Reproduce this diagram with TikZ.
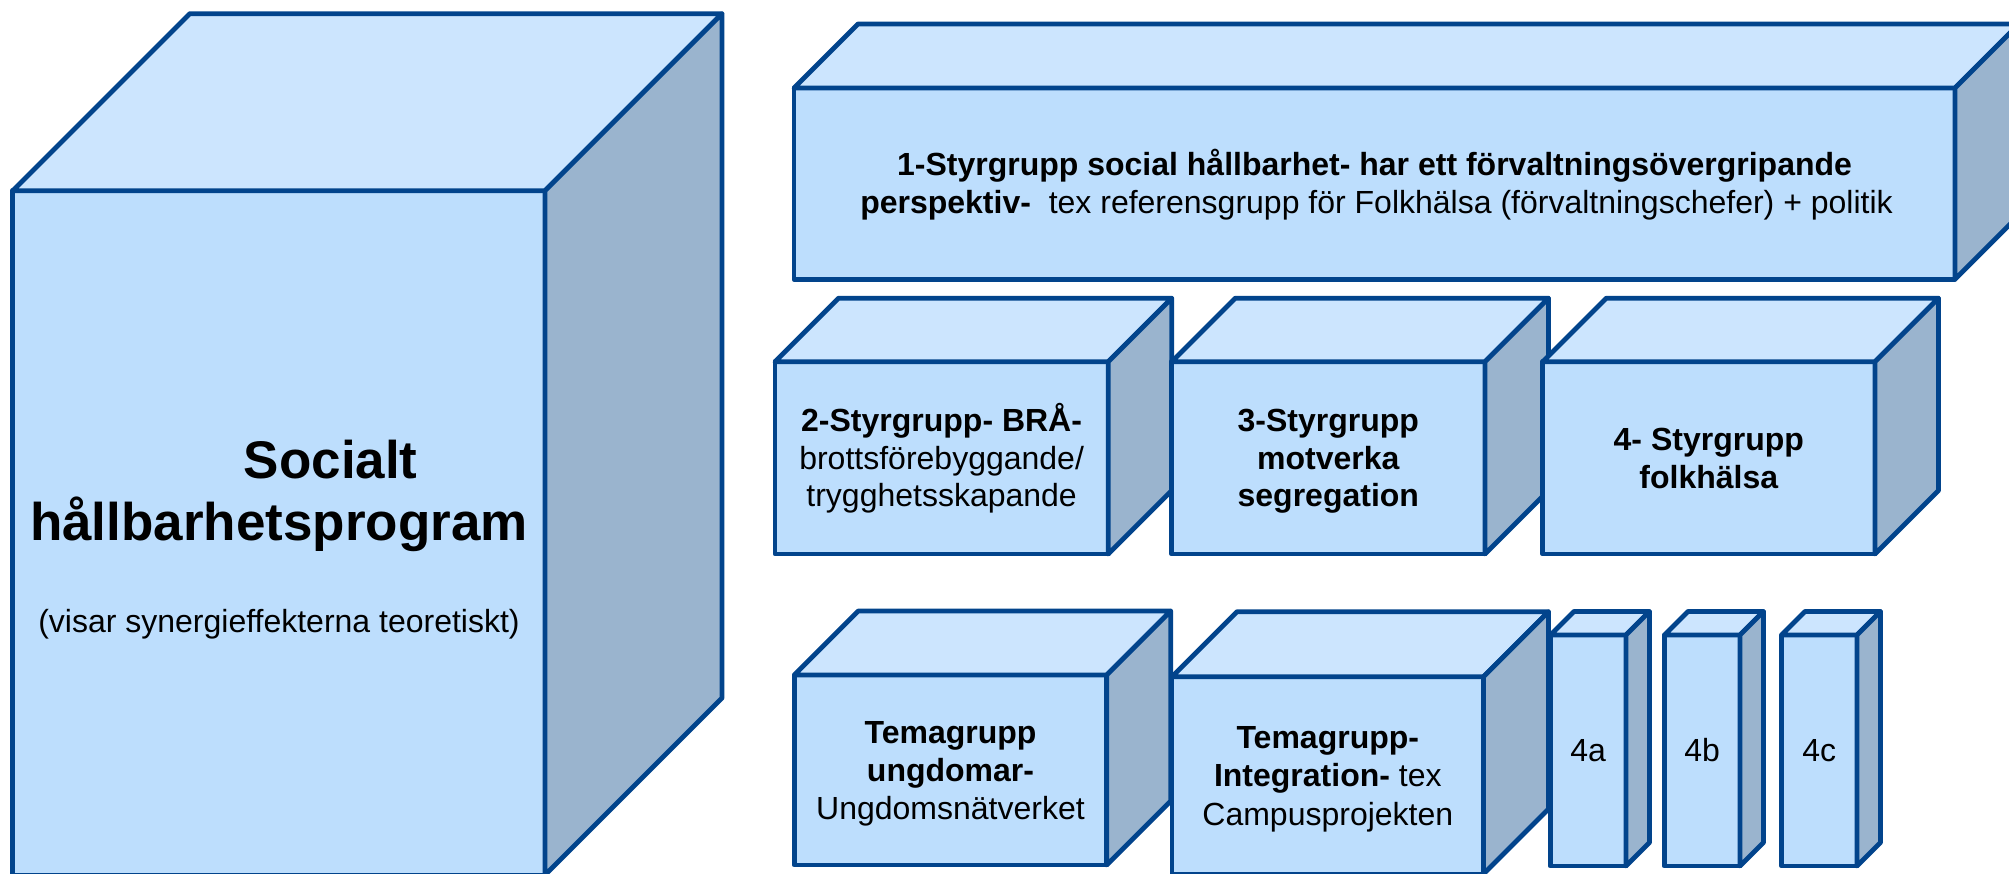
\documentclass[tikz,border=0pt]{standalone}
\usepackage{fontspec}
\setmainfont{Liberation Sans}
\definecolor{cfront}{HTML}{BDDEFD}
\definecolor{ctop}{HTML}{CCE5FE}
\definecolor{cside}{HTML}{9AB4CE}
\definecolor{cline}{HTML}{02448C}
\tikzset{
  cubeline/.style={draw=cline, line width=4.8pt, line join=round},
  txt/.style={anchor=base, inner sep=0pt, font=\fontsize{32}{38}\selectfont},
  btxt/.style={anchor=base, inner sep=0pt, font=\fontsize{32}{38}\selectfont\bfseries},
  bigtxt/.style={anchor=base, inner sep=0pt, font=\fontsize{53}{58}\selectfont\bfseries}
}
% front x1, top y1, front x2, bottom y2, depth
\newcommand\mycube[5]{%
  \filldraw[cubeline,fill=cfront] (#1,#2) rectangle (#3,#4);
  \filldraw[cubeline,fill=ctop] (#1,#2) -- ({#1+#5},{#2-#5}) -- ({#3+#5},{#2-#5}) -- (#3,#2) -- cycle;
  \filldraw[cubeline,fill=cside] (#3,#2) -- ({#3+#5},{#2-#5}) -- ({#3+#5},{#4-#5}) -- (#3,#4) -- cycle;
}
\begin{document}
\begin{tikzpicture}[x=1pt,y=-1pt]
\useasboundingbox (0,0) rectangle (2009,873);
\clip (0,0) rectangle (2009,873);
\fill[white] (0,0) rectangle (2009,873);
% big cube
\mycube{12.7}{190.7}{545}{875}{177}
\node[bigtxt] (s1) at (330.7,478) {Socialt};
\node[bigtxt] (s2) at (279,540) {hållbarhetsprogram};
\node[txt] (s3) at (279,632) {(visar synergieffekterna teoretiskt)};
% top cube
\mycube{794}{88}{1955}{279.3}{64}
\node[btxt] (a1) at (1374.5,175.7) {1-Styrgrupp social hållbarhet- har ett förvaltningsövergripande};
\node[txt] (a2) at (1376.5,213.3) {\textbf{perspektiv-}\ \ tex referensgrupp för Folkhälsa (förvaltningschefer) + politik};
% row 2
\mycube{775}{361.7}{1108.3}{554}{63.5}
\mycube{1171.7}{361.7}{1485}{554}{63.5}
\mycube{1542.7}{361.7}{1875}{554}{63.5}
\node[btxt] (b1) at (941.6,431.7) {2-Styrgrupp- BRÅ-};
\node[txt] (b2) at (941.6,469.3) {brottsförebyggande/};
\node[txt] (b3) at (941.6,506.7) {trygghetsskapande};
\node[btxt] (c1) at (1328.3,431.7) {3-Styrgrupp};
\node[btxt] (c2) at (1328.3,469.3) {motverka};
\node[btxt] (c3) at (1328.3,506.7) {segregation};
\node[btxt] (d1) at (1708.8,450.7) {4- Styrgrupp};
\node[btxt] (d2) at (1708.8,488.3) {folkhälsa};
% row 3
\mycube{794.3}{675}{1106.7}{865}{64}
\mycube{1172}{676.7}{1483.5}{874}{65}
\mycube{1550.4}{635}{1626}{866}{23.5}
\mycube{1664.4}{635}{1740}{866}{23.5}
\mycube{1781.5}{635}{1857}{866}{23.5}
\node[btxt] (e1) at (950.5,743.3) {Temagrupp};
\node[btxt] (e2) at (950.5,781.7) {ungdomar-};
\node[txt] (e3) at (950.5,819.3) {Ungdomsnätverket};
\node[btxt] (f1) at (1327.8,748.3) {Temagrupp-};
\node[txt] (f2) at (1327.8,786) {\textbf{Integration-} tex};
\node[txt] (f3) at (1327.8,825) {Campusprojekten};
\node[txt] (g1) at (1588.2,761.7) {4a};
\node[txt] (g2) at (1702.2,761.7) {4b};
\node[txt] (g3) at (1819.2,761.7) {4c};
\end{tikzpicture}
\end{document}
